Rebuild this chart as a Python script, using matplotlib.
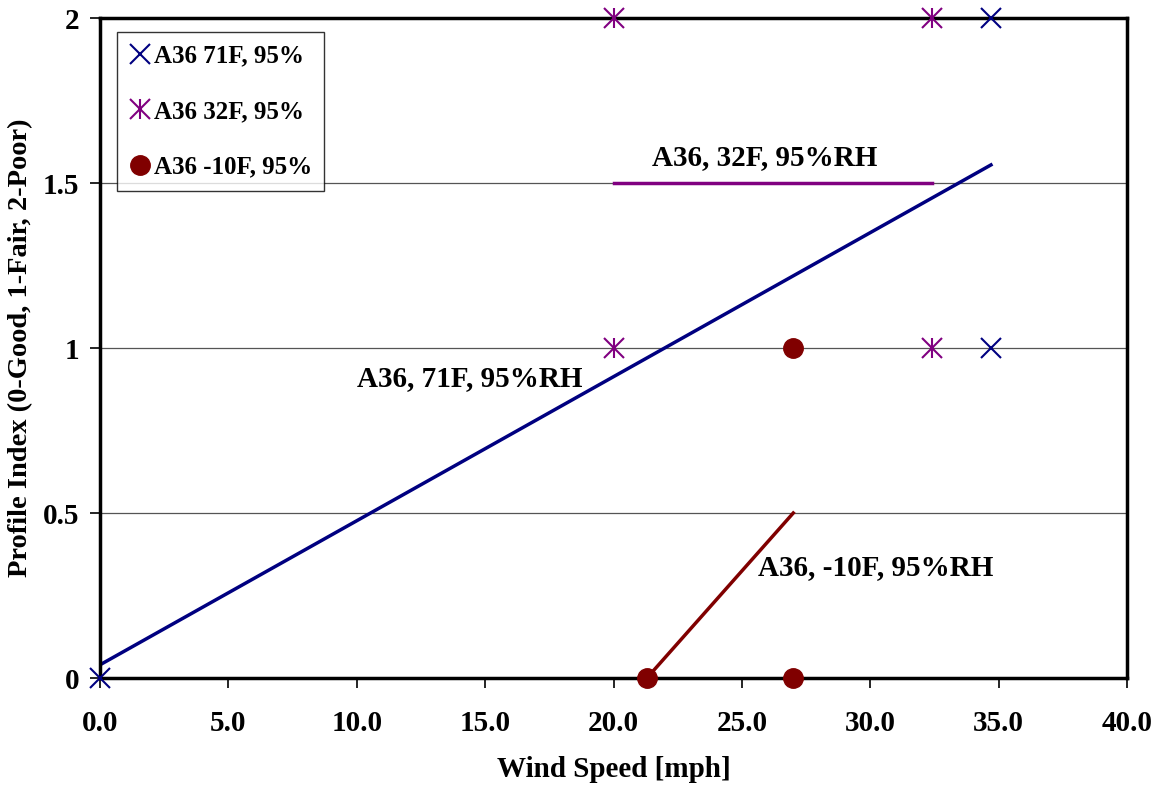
import matplotlib
matplotlib.use("Agg")
import matplotlib.pyplot as plt
from matplotlib.legend_handler import HandlerTuple

plt.rcParams['font.family'] = ['Liberation Serif', 'DejaVu Serif']
plt.rcParams['font.weight'] = 'bold'
plt.rcParams['axes.labelweight'] = 'bold'

# data
wind_71 = [0.0, 34.7, 34.7]
idx_71 = [0, 2, 1]
trend_71_x = [0.0, 34.7]
trend_71_y = [0.04, 1.555]

wind_32 = [20.0, 20.0, 32.4, 32.4]
idx_32 = [2, 1, 2, 1]
trend_32_x = [20.0, 32.4]
trend_32_y = [1.5, 1.5]

wind_m10 = [21.3, 27.0, 27.0]
idx_m10 = [0, 1, 0]
trend_m10_x = [21.3, 27.0]
trend_m10_y = [0.0, 0.5]

xticks = [0, 5, 10, 15, 20, 25, 30, 35, 40]
yticks = [0, 0.5, 1, 1.5, 2]
ytick_labels = ['0', '0.5', '1', '1.5', '2']

navy = '#000080'
purple = '#800080'
maroon = '#800000'

fig = plt.figure(figsize=(11.55, 7.86), dpi=100)
ax = fig.add_axes([0.0866, 0.1374, 0.8892, 0.8396])

for y in [0.5, 1, 1.5]:
    ax.axhline(y, color='#555555', lw=0.9, zorder=0)

ax.plot(trend_71_x, trend_71_y, color=navy, lw=2.5, zorder=2)
ax.plot(trend_32_x, trend_32_y, color=purple, lw=2.5, zorder=2)
ax.plot(trend_m10_x, trend_m10_y, color=maroon, lw=2.5, zorder=2)

h71, = ax.plot(wind_71, idx_71, ls='none', marker='x', ms=14, mew=1.5,
               color=navy, clip_on=False, zorder=4)
h32a, = ax.plot(wind_32, idx_32, ls='none', marker='x', ms=14, mew=1.5,
                color=purple, clip_on=False, zorder=4)
h32b, = ax.plot(wind_32, idx_32, ls='none', marker='|', ms=15, mew=1.5,
                color=purple, clip_on=False, zorder=4)
hm10, = ax.plot(wind_m10, idx_m10, ls='none', marker='o', ms=14,
                color=maroon, clip_on=False, zorder=4)

ax.text(25.9, 1.576, 'A36, 32F, 95%RH', fontsize=21, ha='center', va='center')
ax.text(14.4, 0.909, 'A36, 71F, 95%RH', fontsize=21, ha='center', va='center')
ax.text(30.2, 0.336, 'A36, -10F, 95%RH', fontsize=21, ha='center', va='center')

ax.set_xlim(0, 40)
ax.set_ylim(0, 2)
ax.set_xticks(xticks)
ax.set_xticklabels([f'{v:.1f}' for v in xticks])
ax.set_yticks(yticks)
ax.set_yticklabels(ytick_labels)
ax.tick_params(axis='both', direction='out', length=7, width=1.2,
               labelsize=21, pad=8)
ax.tick_params(axis='x', pad=16)
for s in ax.spines.values():
    s.set_linewidth(2.5)

ax.set_xlabel('Wind Speed [mph]', fontsize=21, labelpad=14)
ax.set_ylabel('Profile Index (0-Good, 1-Fair, 2-Poor)', fontsize=20.5, labelpad=7)

leg = ax.legend([h71, (h32a, h32b), hm10],
                ['A36 71F, 95%', 'A36 32F, 95%', 'A36 -10F, 95%'],
                handler_map={tuple: HandlerTuple(ndivide=1)},
                loc='upper left', bbox_to_anchor=(0.017, 0.979),
                fontsize=18, frameon=True, fancybox=False, edgecolor='black',
                handlelength=0.8, handletextpad=0.15, labelspacing=1.3,
                borderpad=0.5, borderaxespad=0)
leg.get_frame().set_linewidth(1.0)

fig.savefig('out.png', dpi=100)
